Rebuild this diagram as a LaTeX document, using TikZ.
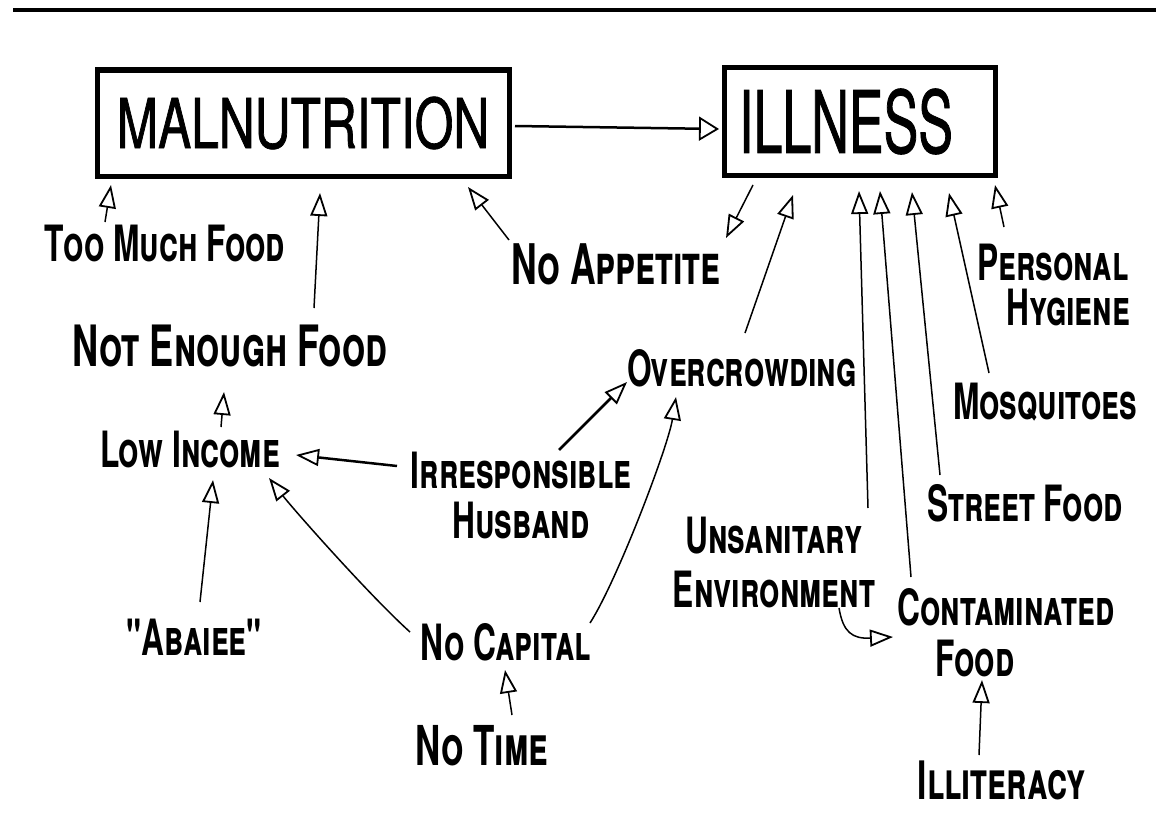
\documentclass[tikz,border=0pt]{standalone}
\usepackage{fontspec}
\usetikzlibrary{arrows.meta,calc}
\newfontfamily\handfont[FakeStretch=0.634]{TeX Gyre Heros}
\newfontfamily\boxfont[FakeStretch=0.72,FakeBold=1]{TeX Gyre Heros}
\begin{document}
\begin{tikzpicture}[x=1pt,y=-1pt,
  lbl/.style={font=\handfont\fontsize{#1}{#1}\selectfont\bfseries\scshape, inner sep=0pt, align=center},
  lbl/.default=50,
  arr/.style={-{Triangle[open,length=23pt,width=17pt,line width=1.8pt]}, line width=1.5pt},
  bigbox/.style={draw, line width=5pt, inner sep=0pt, font=\boxfont},
]
\useasboundingbox (0,0) rectangle (1156,816);
\draw[line width=4pt] (13,10) -- (1156,10);

% main boxes
\node[bigbox, minimum width=412pt, minimum height=106pt] (mal) at (303,123)
  {\fontsize{69}{69}\selectfont MALNUTRITION};
\node[bigbox, minimum width=271pt, minimum height=107pt] (ill) at (859.5,121.5)
  {\fontsize{86}{86}\selectfont\scalebox{0.84}[1]{ILLNESS}\hspace*{27pt}};

% labels
\node[lbl] (tmf) at (165,243) {Too Much Food};
\node[lbl=57] (nef) at (230,346) {Not Enough Food};
\node[lbl=56] (noapp) at (616,264) {No Appetite};
\node[lbl] (lowinc) at (190,449) {Low Income};
\node[lbl] (irr) at (521,495) {Irresponsible\\Husband};
\node[lbl] (abaiee) at (194,637) {"Abaiee"};
\node[lbl] (nocap) at (506,642) {No Capital};
\node[lbl=55] (notime) at (482,746) {No Time};
\node[lbl] (overc) at (742,368) {Overcrowding};
\node[lbl] (ph) at (1053,285) {Personal\\[-5pt]\hspace*{30pt}Hygiene};
\node[lbl] (mosq) at (1045,402) {Mosquitoes};
\node[lbl] (street) at (1025,503) {Street Food};
\node[lbl] (unsan) at (774,562) {Unsanitary\\[4pt]Environment};
\node[lbl] (contam) at (1006,633) {Contaminated\\[1pt]Food\hspace*{62pt}};
\node[lbl=53] (illit) at (1002,780) {Illiteracy};

% connectors
\draw[arr, line width=2.5pt, -{Triangle[open,length=20pt,width=24pt,line width=1.8pt]}]
  ($(mal)+(212,3)$) -- ($(ill)+(-140.5,7.5)$);
\draw[arr] ($(tmf)+(-60,-21)$) -- ($(mal)+(-192,62)$);
\draw[arr] ($(nef)+(84,-38)$) -- ($(mal)+(17,70)$);
\draw[arr] ($(noapp)+(-107,-24)$) -- ($(mal)+(165,64)$);
\draw[arr] ($(ill)+(-106.5,63.5)$) -- ($(noapp)+(110,-26)$);
\draw[arr] ($(overc)+(3,-35)$) -- ($(ill)+(-66.5,73.5)$);
\draw[arr] ($(unsan)+(94,-54)$) -- ($(ill)+(-0.5,69.5)$);
\draw[arr] ($(contam)+(-95,-56)$) -- ($(ill)+(20.5,69.5)$);
\draw[arr] ($(street)+(-85,-28)$) -- ($(ill)+(52.5,70.5)$);
\draw[arr] ($(mosq)+(-56,-29)$) -- ($(ill)+(89.5,71.5)$);
\draw[arr] ($(ph)+(-49,-58)$) -- ($(ill)+(135.5,63.5)$);
\draw[arr] ($(lowinc)+(31,-22)$) -- ($(nef)+(-6,46)$);
\draw[arr, line width=2.5pt] ($(irr)+(-124,-29)$) -- ($(lowinc)+(106,6)$);
\draw[arr, line width=2.5pt] ($(irr)+(38,-45)$) -- ($(overc)+(-115,14)$);
\draw[arr] ($(abaiee)+(6,-35)$) -- ($(lowinc)+(23,31)$);
\draw[arr] ($(nocap)+(-96,-10)$) .. controls ($(nocap)+(-136,-46)$) and ($(lowinc)+(104,61)$) .. ($(lowinc)+(79,29)$);
\draw[arr] ($(nocap)+(84,-19)$) .. controls ($(nocap)+(111,-61)$) and ($(overc)+(-74,79)$) .. ($(overc)+(-66,29)$);
\draw[arr] ($(notime)+(30,-31)$) -- ($(nocap)+(-1,28)$);
\draw[arr] ($(unsan)+(65,46)$) .. controls ($(unsan)+(69,70)$) and ($(unsan)+(78,77)$) .. ($(contam)+(-113,4)$);
\draw[arr] ($(illit)+(-23,-25)$) -- ($(contam)+(-24,47)$);
\end{tikzpicture}
\end{document}
